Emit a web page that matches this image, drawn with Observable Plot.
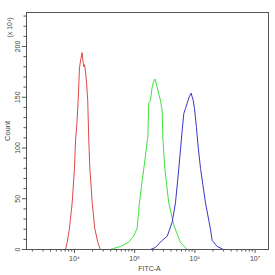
<!DOCTYPE html>
<html>
<head>
<meta charset="utf-8">
<script src="https://cdn.jsdelivr.net/npm/d3@7"></script>
<script src="https://cdn.jsdelivr.net/npm/@observablehq/plot@0.6"></script>
<style>
  html, body { margin: 0; padding: 0; background: #fff; }
</style>
</head>
<body>
<div id="chart"></div>
<script>
// FITC-A intensity (linear units) and counts (x10)
const redX = [7080, 7570, 8260, 9160, 10000, 10400, 11000, 11520, 12100, 12800, 13400, 13800, 14300, 14700, 15200, 15800, 16600, 17300, 18000, 19700, 21700, 24400, 27000];
const redY = [0, 7, 21, 46, 80, 107, 125, 147, 179, 188, 194, 186, 180, 182, 176, 166, 147, 107, 80, 46, 21, 7, 0];

const greenX = [39600, 44500, 58100, 78900, 95500, 110000, 120000, 130000, 142000, 166000, 171000, 183000, 195000, 205000, 217000, 230000, 242000, 268000, 286000, 293000, 316000, 368000, 446000, 576000, 745000];
const greenY = [0, 1, 3, 7, 13, 21, 46, 63, 80, 112, 144, 147, 160, 165, 168, 163, 157, 147, 137, 112, 80, 46, 24, 7, 0];

const blueX = [183000, 221000, 286000, 347000, 420000, 476000, 541000, 615000, 655000, 699000, 745000, 798000, 868000, 896000, 938000, 985000, 1064000, 1092000, 1148000, 1240000, 1500000, 1816000, 1937000, 2345000, 2985000];
const blueY = [0, 2, 9, 13, 27, 46, 80, 117, 134, 139, 144, 150, 154, 151, 147, 139, 120, 112, 98, 80, 46, 20, 9, 3, 0];

const xMajorTicks = [1e4, 1e5, 1e6, 1e7];
const xMajorLabels = ["10\u2074", "10\u2075", "10\u2076", "10\u2077"];
const yMajorTicks = [0, 50, 100, 150, 200];

const xMinorTicks = [];
for (const d of [1e3, 1e4, 1e5, 1e6]) for (let k = 2; k <= 9; k++) xMinorTicks.push(d * k);
const yMinorTicks = d3.range(10, 240, 10).filter(v => v % 50 !== 0);

const toRows = (xs, ys) => xs.map((x, i) => ({x, y: ys[i]}));
const red = toRows(redX, redY);
const green = toRows(greenX, greenY);
const blue = toRows(blueX, blueY);

const axisColor = "#555";

const chart = Plot.plot({
  width: 275,
  height: 275,
  marginLeft: 26,
  marginRight: 7,
  marginTop: 12,
  marginBottom: 26,
  style: {fontFamily: "'Liberation Sans', Arial, sans-serif", fontSize: "7px", color: "#444", background: "#fff"},
  x: {type: "log", domain: [1596, 16710000], label: null},
  y: {domain: [0, 233.5], label: null},
  marks: [
    Plot.line(red, {x: "x", y: "y", stroke: "#e04848", strokeWidth: 1, clip: true}),
    Plot.line(green, {x: "x", y: "y", stroke: "#3ee03e", strokeWidth: 1, clip: true}),
    Plot.line(blue, {x: "x", y: "y", stroke: "#3838c8", strokeWidth: 1, clip: true}),
    Plot.frame({stroke: axisColor, strokeWidth: 1}),
    Plot.axisX({ticks: xMinorTicks.filter(v => v >= 1596 && v <= 16710000), tickSize: 2.5, tickFormat: () => "", stroke: axisColor}),
    Plot.axisX({ticks: xMajorTicks, tickSize: 4, tickPadding: 3, tickFormat: (d) => xMajorLabels[xMajorTicks.indexOf(d)], stroke: axisColor}),
    Plot.axisY({ticks: yMinorTicks, tickSize: 2.5, tickFormat: () => "", stroke: axisColor}),
    Plot.axisY({ticks: yMajorTicks, tickSize: 4, tickPadding: 3, tickRotate: -90, stroke: axisColor}),
    Plot.text(["Count"], {frameAnchor: "left", dx: -19, rotate: -90, textAnchor: "middle", fontSize: 7.5, fill: "#444"}),
    Plot.text(["(x 10\u00b9)"], {frameAnchor: "top-left", dx: -19, dy: 15, rotate: -90, textAnchor: "middle", fontSize: 7, fill: "#444"}),
    Plot.text(["FITC-A"], {frameAnchor: "bottom", dx: 2, dy: 21, fontSize: 7, fill: "#444"})
  ]
});
document.getElementById("chart").appendChild(chart);
</script>
</body>
</html>
